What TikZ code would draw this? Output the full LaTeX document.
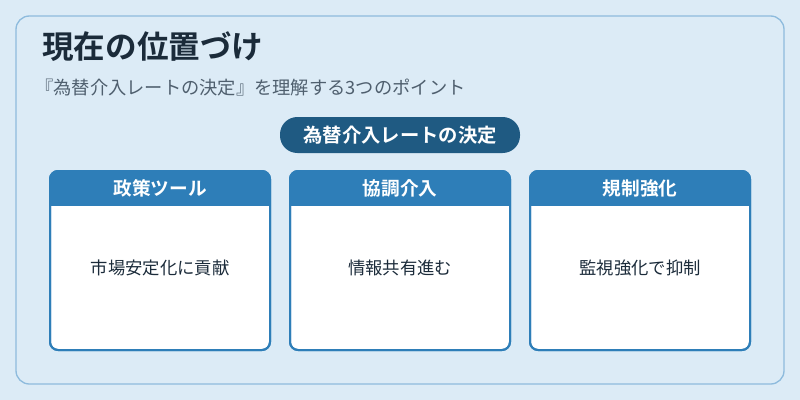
\documentclass[tikz,border=0pt]{standalone}
\usepackage{fontspec}
\setmainfont{Noto Sans CJK JP}
\newfontfamily\jpbold{Noto Sans CJK JP Bold}
\definecolor{bg}{HTML}{DCEBF6}
\definecolor{frame}{HTML}{8EBBDD}
\definecolor{dark}{HTML}{1F5A82}
\definecolor{head}{HTML}{2E7EB8}
\definecolor{titlec}{HTML}{1B2B3A}
\definecolor{subc}{HTML}{4F5F6E}
\tikzset{
 card/.style={draw=head,line width=1.5pt,fill=white,rounded corners=6pt},
 hdr/.style={text=white,font=\jpbold\fontsize{14}{16}\selectfont},
 body/.style={text=titlec,font=\fontsize{13}{15}\selectfont}
}
\begin{document}
\begin{tikzpicture}[x=0.75pt,y=-0.75pt]
\useasboundingbox (0,0) rectangle (800,400);
\fill[bg] (0,0) rectangle (800,400);
\draw[frame,line width=1pt,rounded corners=10pt] (16,16) rectangle (784,384);
\node[anchor=west,inner sep=0pt,text=titlec,font=\jpbold\fontsize{23.7}{26}\selectfont] (title) at (42,47) {現在の位置づけ};
\node[anchor=west,inner sep=0pt,text=subc,font=\fontsize{13.7}{15}\selectfont] (sub) at (35,88) {『為替介入レートの決定』を理解する3つのポイント};
\node[fill=dark,rounded corners=13pt,minimum width=240*0.75pt,minimum height=36*0.75pt,text=white,font=\jpbold\fontsize{14.5}{16}\selectfont] (pill) at (400,135) {為替介入レートの決定};
\foreach \i/\x/\h/\b in {1/50/政策ツール/市場安定化に貢献,2/290/協調介入/情報共有進む,3/530/規制強化/監視強化で抑制}{
  \draw[card] (\x,171) rectangle (\x+220,350);
  \begin{scope}
   \clip[rounded corners=6pt] (\x,171) rectangle (\x+220,350);
   \fill[head] (\x,171) rectangle (\x+220,206);
  \end{scope}
  \draw[head,line width=1.5pt,rounded corners=6pt] (\x,171) rectangle (\x+220,350);
  \node[hdr] (h\i) at (\x+110,188.5) {\h};
  \node[body] (b\i) at (\x+110,268) {\b};
}
\end{tikzpicture}
\end{document}
